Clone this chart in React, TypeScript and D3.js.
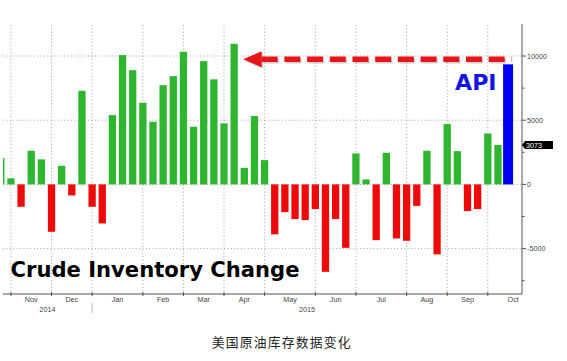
import React from 'react';
import * as d3 from 'd3';

// weekly EIA crude inventory change (thousand barrels), first week ending Oct 31 2014
const weekValues = [
    2050, 470, -1745, 2620, 1950, -3690, 1450, -860, 7290, -1745,
    -3040, 5400, 10070, 8900, 6360, 4880, 7730, 8430, 10330, 4490,
    9600, 8180, 4750, 10950, 1290, 5320, 1890, -3890, -2160, -2700,
    -2780, -1920, -6810, -2700, -4940, 2410, 390, -4340, 2460, -4210,
    -4390, -1670, 2620, -5450, 4700, 2590, -2080, -1920, 3970, 3073,
];
const apiValue = 9350;
const lastLabel = '3073';
const firstWeek = new Date(2014, 9, 31);
const monthNames = ['Jan', 'Feb', 'Mar', 'Apr', 'May', 'Jun', 'Jul', 'Aug', 'Sep', 'Oct', 'Nov', 'Dec'];
const yTicks = [-5000, 0, 5000, 10000];
const yMinorTicks = [-7500, -2500, 2500, 7500];
const title = 'Crude Inventory Change';
const caption = '美国原油库存数据变化';

const W = 567;
const H = 361;
const plot = { left: 3, right: 522, top: 24, bottom: 294 };
const labelFont = '"Liberation Sans", Arial, sans-serif';

export default function App() {
    const n = weekValues.length; // api bar sits at index n
    const x = d3.scaleLinear([0, n], [0.8, 508.1]);
    const y = d3.scaleLinear([-5000, 10000], [248.6, 56]);
    const barW = 7.3;

    const dates = d3.range(n + 4).map((i) => d3.timeDay.offset(firstWeek, i * 7));
    // first week of each month -> gridline
    const grid = [];
    for (let i = 1; i < dates.length; i++) {
        if (dates[i].getMonth() !== dates[i - 1].getMonth()) grid.push(i);
    }
    const inPlot = grid.filter((i) => x(i) < plot.right);
    const months = inPlot.map((i, k) => {
        const next = grid[k + 1] ?? i + 4;
        return { name: monthNames[dates[i].getMonth()], cx: (x(i) + x(next)) / 2 };
    });
    const janIdx = inPlot.find((i) => dates[i].getMonth() === 0);
    const years = [
        { name: '2014', cx: (plot.left + x(janIdx)) / 2 },
        { name: '2015', cx: (x(janIdx) + plot.right) / 2 },
    ];

    const arrowY = y(apiValue + 400);
    const arrowTip = x(23) + 9;
    const arrowBack = arrowTip + 18.5;
    const arrowEnd = x(n) + 3.6;

    return (
        <svg width={W} height={H} style={{ position: 'absolute', left: 0, top: 0, background: '#fff' }}>
            <defs>
                <clipPath id="plotClip">
                    <rect x={plot.left} y={plot.top} width={plot.right - plot.left} height={plot.bottom - plot.top} />
                </clipPath>
            </defs>

            {/* grid */}
            <g stroke="#8a8a8a" strokeWidth="0.8" strokeDasharray="1 2.4">
                {yTicks.map((t) => (
                    <line key={t} x1={plot.left} x2={plot.right} y1={y(t)} y2={y(t)} />
                ))}
                {inPlot.map((i) => (
                    <line key={i} x1={x(i)} x2={x(i)} y1={plot.top + 1} y2={plot.bottom} />
                ))}
            </g>

            {/* bars */}
            <g clipPath="url(#plotClip)">
                {weekValues.map((v, i) => (
                    <rect
                        key={i}
                        x={x(i) - barW / 2}
                        width={barW}
                        y={Math.min(y(v), y(0))}
                        height={Math.abs(y(v) - y(0))}
                        fill={v >= 0 ? '#2fb62f' : '#ee0a0a'}
                    />
                ))}
                <rect x={x(n) - 5} width={10} y={y(apiValue)} height={y(0) - y(apiValue)} fill="#0000f5" />
            </g>

            {/* axes */}
            <g stroke="#555" strokeWidth="1" fill="none">
                <line x1={plot.left} x2={plot.right} y1={plot.bottom} y2={plot.bottom} />
                <line x1={plot.right} x2={plot.right} y1={plot.top} y2={plot.bottom} />
                {inPlot.map((i) => (
                    <line key={i} x1={x(i)} x2={x(i)} y1={plot.bottom - 2} y2={plot.bottom + 2} />
                ))}
                {yTicks.map((t) => (
                    <line key={t} x1={plot.right} x2={plot.right + 4} y1={y(t)} y2={y(t)} />
                ))}
                {yMinorTicks.map((t) => (
                    <line key={t} x1={plot.right} x2={plot.right + 2.5} y1={y(t)} y2={y(t)} />
                ))}
            </g>
            <g fontFamily={labelFont} fontSize="7.2" fill="#444">
                {yTicks.map((t) => (
                    <text key={t} x={plot.right + 5} y={y(t) + 2.5}>{t}</text>
                ))}
                {months.map((m) => (
                    <text key={m.name} x={m.cx} y={302} textAnchor="middle">{m.name}</text>
                ))}
                {years.map((yr) => (
                    <text key={yr.name} x={yr.cx} y={312} textAnchor="middle">{yr.name}</text>
                ))}
            </g>
            <line x1={x(janIdx)} x2={x(janIdx)} y1={303} y2={313} stroke="#bbb" strokeWidth="1" />

            {/* last value tag */}
            <path
                d={`M${plot.right},${y(3073)} L${plot.right + 3},${y(3073) - 4} H${plot.right + 31} V${y(3073) + 4} H${plot.right + 3} Z`}
                fill="#000"
            />
            <text x={plot.right + 4} y={y(3073) + 2.6} fontFamily={labelFont} fontSize="7.2" fill="#fff">
                {lastLabel}
            </text>

            {/* arrow */}
            <g opacity="0.35" transform="translate(1.2,1.5)">
                <line x1={arrowBack} x2={arrowEnd} y1={arrowY} y2={arrowY} stroke="#777" strokeWidth="5.5" strokeDasharray="16 6.7" />
                <path d={`M${arrowTip},${arrowY} L${arrowBack},${arrowY - 8} V${arrowY + 8} Z`} fill="#777" />
            </g>
            <line x1={arrowBack} x2={arrowEnd} y1={arrowY} y2={arrowY} stroke="#e8161b" strokeWidth="5.5" strokeDasharray="16 6.7" />
            <path d={`M${arrowTip},${arrowY} L${arrowBack},${arrowY - 8} V${arrowY + 8} Z`} fill="#e8161b" />

            <text x={x(n) - 11.5} y={90} textAnchor="end" fontFamily='"DejaVu Sans", Verdana, sans-serif' fontWeight="bold" fontSize="20.5" fill="#1414e6" textLength={41.5} lengthAdjust="spacingAndGlyphs">
                API
            </text>

            <text x={10.5} y={277.3} fontFamily='"DejaVu Sans", Verdana, sans-serif' fontWeight="bold" fontSize="21" fill="#000" textLength={289} lengthAdjust="spacingAndGlyphs">
                {title}
            </text>

            <text x={281.7} y={346.5} textAnchor="middle" fontFamily='"Noto Sans CJK SC", sans-serif' fontSize="12.8" fill="#222" letterSpacing="1.2">
                {caption}
            </text>
        </svg>
    );
}
